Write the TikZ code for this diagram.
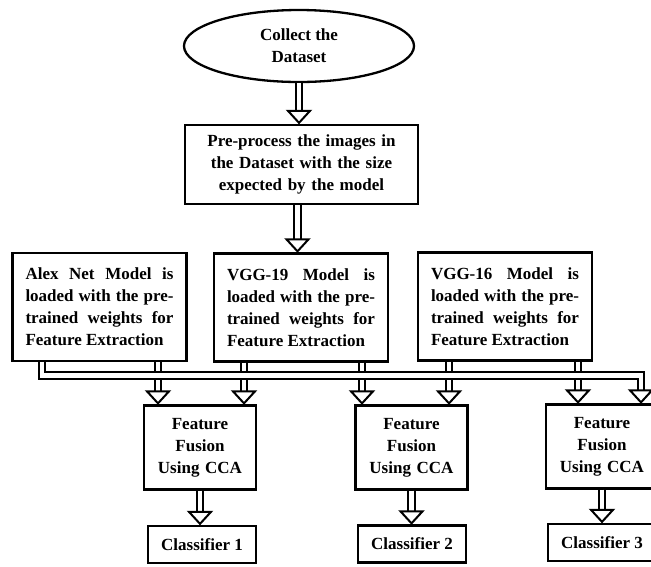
\documentclass[tikz,border=0pt]{standalone}
\usepackage{fontspec}
\setmainfont{Liberation Serif}
\usepackage{tikz}
\usetikzlibrary{positioning,calc,shapes.geometric,decorations.markings}
\tikzset{blk/.style={draw, line width=2.3pt, inner sep=0pt, font=\fontsize{17}{22}\selectfont\bfseries}}
\tikzset{mdl/.style={blk, minimum width=174pt, minimum height=108pt, text width=148pt, align=justify}}
\tikzset{fus/.style={blk, minimum width=112pt, minimum height=84pt, text width=110pt, align=center}}
\tikzset{cls/.style={blk, minimum width=108pt, minimum height=37pt, align=center}}
\tikzset{dbl/.style={draw, double, double distance=4.5pt, line width=2pt, shorten >=11pt,
    decoration={markings, mark=at position 1 with {\draw[line width=2pt, shorten >=0pt, fill=white, line join=miter]
        (-1pt,0pt) -- (-13pt,11pt) -- (-13pt,-11pt) -- cycle;}},
    postaction={decorate}}}
\tikzset{bus/.style={draw, double, double distance=4.5pt, line width=2pt}}

\begin{document}
\begin{tikzpicture}[x=1pt, y=-1pt]
    \useasboundingbox (0,0) rectangle (651,566);
    \node[blk, ellipse, minimum width=230pt, minimum height=72pt, align=center] (collect) at (299,46) {Collect the\\Dataset};
    \node[blk, minimum width=233pt, minimum height=79pt, text width=205pt, align=center] (prep) at (301.5,164.5)
        {Pre-process the images in\\the Dataset with the size\\expected by the model};
    % three pre-trained models
    \node[mdl] (alex) at (99.5,307) {Alex Net Model is\linebreak loaded with the pre-\linebreak trained weights for\linebreak Feature Extraction};
    \node[mdl] (vgg19) at (301,307.5) {VGG-19 Model is\linebreak loaded with the pre-\linebreak trained weights for\linebreak Feature Extraction};
    \node[mdl] (vgg16) at (505,306.5) {VGG-16 Model is\linebreak loaded with the pre-\linebreak trained weights for\linebreak Feature Extraction};
    % fusion and classifiers
    \node[fus] (fusA) at (200,447.5) {Feature\\Fusion\\Using CCA};
    \node[fus] (fusB) at (411.5,447.5) {Feature\\Fusion\\Using CCA};
    \node[fus] (fusC) at (602,446.5) {Feature\\Fusion\\Using CCA};
    \node[cls] (clsA) at (202,544.5) {Classifier 1};
    \node[cls] (clsB) at (412,544) {Classifier 2};
    \node[cls] (clsC) at (602,542.5) {Classifier 3};

    \draw[dbl] (collect.south) -- (collect.south |- prep.north);
    \draw[dbl] (prep.south) ++(-4,0) coordinate (p0) -- (p0 |- vgg19.north);

    \coordinate (s0) at ($(alex.south)+(-57.5,0)$);
    \coordinate (s1) at ($(alex.south)+(58.5,0)$);
    \coordinate (s2) at ($(vgg19.south)+(-57,0)$);
    \coordinate (s3) at ($(vgg19.south)+(61,0)$);
    \coordinate (s4) at ($(vgg16.south)+(-56,0)$);
    \coordinate (s5) at ($(vgg16.south)+(73,0)$);
    \coordinate (busR) at (641,375.5);
    \draw[dbl] (s1) -- (s1 |- fusA.north);
    \draw[dbl] (s2) -- (s2 |- fusA.north);
    \draw[dbl] (s3) -- (s3 |- fusB.north);
    \draw[dbl] (s4) -- (s4 |- fusB.north);
    \draw[dbl] (s5) -- (s5 |- fusC.north);
    % bus from Alex Net round to the last fusion
    \draw[bus] (s0) |- (busR) -- ($(busR)!0.4!(busR |- fusC.north)$);
    \draw[dbl] ($(busR)!0.4!(busR |- fusC.north)$) -- (busR |- fusC.north);

    \draw[dbl] (fusA.south) -- (fusA.south |- clsA.north);
    \draw[dbl] (fusB.south) -- (fusB.south |- clsB.north);
    \draw[dbl] (fusC.south) -- (fusC.south |- clsC.north);
\end{tikzpicture}
\end{document}
